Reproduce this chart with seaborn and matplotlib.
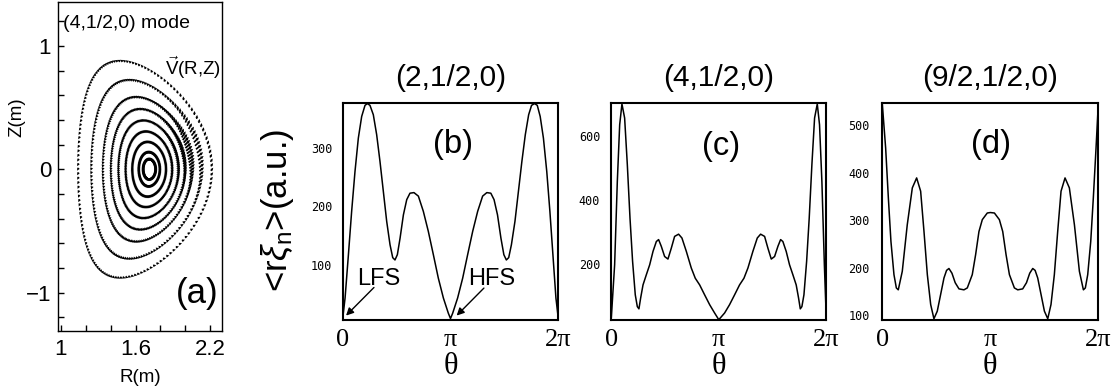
import numpy as np
import pandas as pd
import matplotlib
matplotlib.use("Agg")
import matplotlib.pyplot as plt
import seaborn as sns

# ---------------- data ----------------
# panel (b): (2,1/2,0)
b_theta_over_pi = [0.0, 0.022, 0.053, 0.083, 0.114, 0.145, 0.176, 0.207, 0.229, 0.253, 0.284,
                   0.315, 0.346, 0.377, 0.408, 0.439, 0.464, 0.485, 0.507, 0.532, 0.563, 0.594,
                   0.624, 0.661, 0.702, 0.748, 0.794, 0.841, 0.887, 0.934, 0.980, 1.0,
                   1.020, 1.066, 1.113, 1.159, 1.206, 1.252, 1.298, 1.337, 1.374, 1.404, 1.436,
                   1.468, 1.495, 1.518, 1.540, 1.565, 1.598, 1.630, 1.662, 1.694, 1.725, 1.752,
                   1.780, 1.805, 1.832, 1.862, 1.893, 1.922, 1.950, 1.978, 2.0]
b_values = [8, 43, 117, 191, 259, 316, 353, 372, 375, 372, 356,
            322, 276, 225, 174, 134, 112, 108, 117, 145, 185, 211,
            222, 223, 217, 191, 157, 117, 77, 43, 17, 8,
            17, 43, 77, 117, 157, 191, 217, 223, 222, 211, 185,
            145, 117, 108, 112, 134, 174, 225, 276, 322, 356, 372,
            375, 372, 353, 316, 259, 191, 117, 43, 8]

# panel (c): (4,1/2,0)
c_theta_over_pi = [0.0, 0.031, 0.056, 0.078, 0.099, 0.124, 0.149, 0.174, 0.198, 0.223, 0.242,
                   0.257, 0.273, 0.295, 0.326, 0.357, 0.388, 0.419, 0.440, 0.465, 0.496, 0.527,
                   0.558, 0.589, 0.626, 0.657, 0.698, 0.744, 0.781, 0.822, 0.868, 0.915, 0.961, 1.0,
                   1.054, 1.100, 1.147, 1.193, 1.234, 1.271, 1.317, 1.358, 1.389, 1.426, 1.457,
                   1.488, 1.519, 1.550, 1.575, 1.596, 1.627, 1.658, 1.689, 1.720, 1.742, 1.758,
                   1.773, 1.792, 1.817, 1.841, 1.866, 1.891, 1.916, 1.937, 1.959, 1.982, 2.0]
c_values = [30, 197, 458, 636, 701, 657, 511, 343, 208, 103, 66,
            59, 93, 134, 166, 197, 239, 270, 276, 255, 223, 215,
            249, 286, 293, 281, 239, 187, 155, 134, 103, 72, 46, 25,
            46, 72, 103, 134, 155, 187, 239, 281, 293, 286, 249,
            215, 223, 255, 276, 270, 239, 197, 166, 134, 93, 59,
            66, 103, 208, 343, 511, 657, 701, 636, 458, 197, 30]

# panel (d): (9/2,1/2,0)
d_theta_over_pi = [0.0, 0.031, 0.056, 0.080, 0.108, 0.130, 0.148, 0.185, 0.231, 0.278, 0.318,
                   0.355, 0.386, 0.417, 0.448, 0.478, 0.509, 0.540, 0.571, 0.595, 0.617, 0.645,
                   0.675, 0.710, 0.756, 0.787, 0.833, 0.864, 0.895, 0.926, 0.972, 1.0,
                   1.038, 1.084, 1.115, 1.146, 1.177, 1.223, 1.254, 1.300, 1.335, 1.365, 1.393,
                   1.415, 1.439, 1.470, 1.501, 1.532, 1.562, 1.593, 1.624, 1.655, 1.692, 1.732,
                   1.779, 1.825, 1.862, 1.880, 1.902, 1.930, 1.954, 1.979, 2.0]
d_values = [545, 452, 347, 255, 185, 157, 153, 192, 290, 368, 389,
            361, 276, 185, 122, 92, 108, 143, 178, 194, 198, 188,
            168, 155, 153, 157, 185, 227, 276, 301, 315, 316,
            315, 301, 276, 227, 185, 157, 153, 155, 168, 188, 198,
            194, 178, 143, 108, 92, 122, 185, 276, 361, 389, 368,
            290, 192, 153, 157, 185, 255, 347, 452, 545]

panel_titles = ["(2,1/2,0)", "(4,1/2,0)", "(9/2,1/2,0)"]
panel_tags = ["(b)", "(c)", "(d)"]
panel_ylims = [(6, 376), (25, 704), (90, 547)]
panel_yticks = [[100, 200, 300], [200, 400, 600], [100, 200, 300, 400, 500]]
theta_tick_labels = ["0", "π", "2π"]

# panel (a): flux surfaces (minor radii, m) and shape
surface_minor_radius = [0.54, 0.445, 0.36, 0.30, 0.243, 0.188, 0.136, 0.085, 0.05]
R_GEO, SHAFRANOV, KAPPA, DELTA = 1.676, 0.036, 1.63, 0.38

# ---------------- style ----------------
sns.set_theme(style="white")
plt.rcParams["font.family"] = ["Liberation Sans", "DejaVu Sans"]
plt.rcParams["mathtext.fontset"] = "custom"
plt.rcParams["mathtext.rm"] = "Liberation Sans"
plt.rcParams["mathtext.it"] = "Liberation Sans:italic"
plt.rcParams["mathtext.bf"] = "Liberation Sans:bold"
for k in ["text.color", "axes.labelcolor", "xtick.color", "ytick.color", "axes.edgecolor"]:
    plt.rcParams[k] = "black"

fig = plt.figure(figsize=(11.14, 3.89), dpi=100)
W, H = 1114, 389

def box(l, r, t, b):
    return [l / W, 1 - b / H, (r - l) / W, (b - t) / H]

# ---------------- panel (a) ----------------
axA = fig.add_axes(box(58, 222, 2, 331))
a_edge = surface_minor_radius[0]
for a in surface_minor_radius:
    rho = a / a_edge
    N = 150
    t = np.linspace(0, 2 * np.pi, N, endpoint=False)
    dl = DELTA * rho
    R0 = R_GEO + SHAFRANOV * (1 - rho ** 2)
    R = R0 + a * np.cos(t + dl * np.sin(t))
    Z = KAPPA * a * np.sin(t)
    dR = -a * np.sin(t + dl * np.sin(t)) * (1 + dl * np.cos(t))
    dZ = KAPPA * a * np.cos(t)
    nrm = np.hypot(dR, dZ)
    tx, tz = dR / nrm, dZ / nrm
    nx, nz = tz, -tx
    tw = np.angle(np.exp(1j * (t - 0.3)))
    fan = np.exp(-(tw / 0.5) ** 2) * np.exp(-((rho - 0.72) / 0.22) ** 2)
    phi = 0.5 * rho ** 2 + 1.0 * fan
    ux = np.cos(phi) * tx + np.sin(phi) * nx
    uz = np.cos(phi) * tz + np.sin(phi) * nz
    L = 0.026 + 0.04 * fan
    axA.quiver(R - ux * L / 2, Z - uz * L / 2, ux * L, uz * L, angles="xy",
               scale_units="xy", scale=1, color="black",
               width=0.009 + 0.006 * (1 - rho), headwidth=2.0, headlength=2.0,
               headaxislength=1.8)
axA.set_xlim(0.976, 2.296)
axA.set_ylim(-1.31, 1.355)
axA.set_xticks([1.0, 1.6, 2.2])
axA.set_xticklabels(["1", "1.6", "2.2"])
axA.set_xticks([1.2, 1.4, 1.8, 2.0], minor=True)
axA.set_yticks([-1, 0, 1])
axA.set_yticklabels(["\u22121", "0", "1"])
axA.set_yticks([-1.2, -0.8, -0.6, -0.4, -0.2, 0.2, 0.4, 0.6, 0.8, 1.2], minor=True)
axA.tick_params(axis="both", which="both", direction="in", length=4, width=1,
                bottom=True, left=True, top=False, right=False)
axA.tick_params(axis="x", which="major", labelsize=16, pad=6)
axA.tick_params(axis="y", which="major", labelsize=16, pad=5)
for s in axA.spines.values():
    s.set_color("black"); s.set_linewidth(1.0)
axA.text(0.03, 0.936, "(4,1/2,0) mode", transform=axA.transAxes, fontsize=14,
         ha="left", va="center")
axA.text(0.652, 0.80, r"$\vec{\mathrm{V}}$(R,Z)", transform=axA.transAxes, fontsize=13.5,
         ha="left", va="center")
axA.text(0.848, 0.115, "(a)", transform=axA.transAxes, fontsize=25, ha="center", va="center")
fig.text(17 / W, 1 - 117 / H, "Z(m)", rotation=90, fontsize=13.5, ha="center", va="center")
fig.text(140 / W, 1 - 378 / H, "R(m)", fontsize=13.5, ha="center", va="center")

# ---------------- panels (b), (c), (d) ----------------
boxes = [(342.7, 558.3), (611.3, 826.3), (882.3, 1098.3)]
tag_pos = [(0.51, 0.808), (0.512, 0.80), (0.502, 0.808)]
ypads = [7.5, 8, 9]
series = [(b_theta_over_pi, b_values), (c_theta_over_pi, c_values), (d_theta_over_pi, d_values)]
axes = []
for i, ((l, r), (th, val)) in enumerate(zip(boxes, series)):
    ax = fig.add_axes(box(l, r, 103, 319.7))
    axes.append(ax)
    df = pd.DataFrame({"theta": np.array(th) * np.pi, "value": val})
    sns.lineplot(data=df, x="theta", y="value", ax=ax, color="black", linewidth=1.1,
                 estimator=None, sort=False)
    ax.set_xlim(0, 2 * np.pi)
    ax.set_ylim(*panel_ylims[i])
    ax.set_xticks([0, np.pi, 2 * np.pi])
    ax.set_xticklabels(theta_tick_labels, fontfamily="Liberation Serif", fontsize=19)
    ax.set_yticks(panel_yticks[i])
    ax.set_yticklabels([str(v) for v in panel_yticks[i]], fontfamily="DejaVu Sans Mono",
                       fontsize=8.5)
    ax.tick_params(axis="both", length=0)
    ax.tick_params(axis="x", pad=6.5)
    ax.tick_params(axis="y", pad=ypads[i])
    ax.set_xlabel(""); ax.set_ylabel("")
    for s in ax.spines.values():
        s.set_visible(True); s.set_color("black"); s.set_linewidth(1.5)
    ax.set_title(panel_titles[i], fontsize=21.5, pad=12.5)
    ax.text(tag_pos[i][0], tag_pos[i][1], panel_tags[i], transform=ax.transAxes,
            fontsize=23.5, ha="center", va="center")
    fig.text((l + r) / 2 / W, 1 - 367 / H, "θ", fontfamily="Liberation Serif",
             fontsize=22, ha="center", va="center")

axB = axes[0]
arrow = dict(arrowstyle="-|>", color="black", lw=1.0, mutation_scale=11, shrinkA=0, shrinkB=0)
axB.text(0.337 * np.pi, 76, "LFS", fontsize=17, ha="center", va="center")
axB.annotate("", xy=(0.031 * np.pi, 13), xytext=(0.29 * np.pi, 61), arrowprops=arrow)
axB.text(1.382 * np.pi, 76, "HFS", fontsize=17, ha="center", va="center")
axB.annotate("", xy=(1.057 * np.pi, 13), xytext=(1.31 * np.pi, 60), arrowprops=arrow)

fig.text(278 / W, 1 - 210 / H, r"<r$\xi_\mathrm{n}$>(a.u.)", rotation=90, fontsize=25,
         ha="center", va="center")

fig.savefig("out.png", dpi=100)
